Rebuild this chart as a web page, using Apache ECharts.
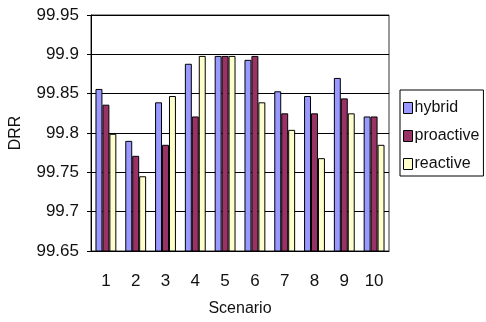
<!DOCTYPE html>
<html><head><meta charset="utf-8">
<script src="https://cdn.jsdelivr.net/npm/echarts@6/dist/echarts.min.js"></script>
<style>html,body{margin:0;padding:0;background:#fff}#c{width:486px;height:322px}</style>
</head><body><div id="c"></div>
<script>
const categories = ['1','2','3','4','5','6','7','8','9','10'];
const hybrid    = [99.856, 99.790, 99.839, 99.888, 99.898, 99.893, 99.853, 99.847, 99.870, 99.821];
const proactive = [99.836, 99.771, 99.785, 99.821, 99.898, 99.898, 99.825, 99.825, 99.844, 99.821];
const reactive  = [99.799, 99.745, 99.847, 99.898, 99.898, 99.839, 99.804, 99.768, 99.825, 99.785];
const yTicks = { min: 99.65, max: 99.95, interval: 0.05 };

const font = 'Liberation Sans, Arial, sans-serif';
const chart = echarts.init(document.getElementById('c'), null, {renderer: 'canvas'});
function ser(name, data, color) {
  return {
    name, type: 'bar', data, barGap: '0%', barCategoryGap: '30%',
    itemStyle: { color, borderColor: '#000', borderWidth: 1 }
  };
}
chart.setOption({
  animation: false,
  backgroundColor: '#fff',
  grid: { left: 87, right: 97, top: 15, bottom: 70, show: true, borderColor: '#333', borderWidth: 1 },
  legend: {
    orient: 'vertical', left: 400, top: 90,
    padding: [10, 4, 4, 3], itemGap: 12,
    itemWidth: 9, itemHeight: 11, icon: 'rect',
    borderColor: '#000', borderWidth: 1,
    textStyle: { fontFamily: font, fontSize: 16, color: '#111', lineHeight: 16, padding: [0,0,0,-3] },
    data: [
      { name: 'hybrid', itemStyle: { borderColor: '#000', borderWidth: 1 } },
      { name: 'proactive', itemStyle: { borderColor: '#000', borderWidth: 1 } },
      { name: 'reactive', itemStyle: { borderColor: '#000', borderWidth: 1 } }
    ]
  },
  xAxis: {
    type: 'category', data: categories,
    name: 'Scenario', nameLocation: 'middle', nameGap: 50,
    nameTextStyle: { fontFamily: font, fontSize: 16, color: '#111' },
    axisLine: { lineStyle: { color: '#000', width: 1 } },
    axisTick: { inside: true, length: 5, lineStyle: { color: '#000' } },
    axisLabel: { fontFamily: font, fontSize: 17, color: '#111', margin: 22 }
  },
  yAxis: {
    type: 'value', min: yTicks.min, max: yTicks.max, interval: yTicks.interval,
    name: 'DRR', nameLocation: 'middle', nameGap: 67, nameRotate: 90,
    nameTextStyle: { fontFamily: font, fontSize: 16, color: '#111' },
    axisLine: { show: true, lineStyle: { color: '#000', width: 1 } },
    axisTick: { show: true, length: 4, lineStyle: { color: '#000' } },
    axisLabel: { fontFamily: font, fontSize: 17, color: '#111', margin: 12,
      formatter: v => String(parseFloat(v.toFixed(2))) },
    splitLine: { show: true, lineStyle: { color: '#000', width: 1 } }
  },
  series: [
    ser('hybrid', hybrid, '#9999FF'),
    ser('proactive', proactive, '#993366'),
    ser('reactive', reactive, '#FFFFCC')
  ]
});
</script></body></html>
